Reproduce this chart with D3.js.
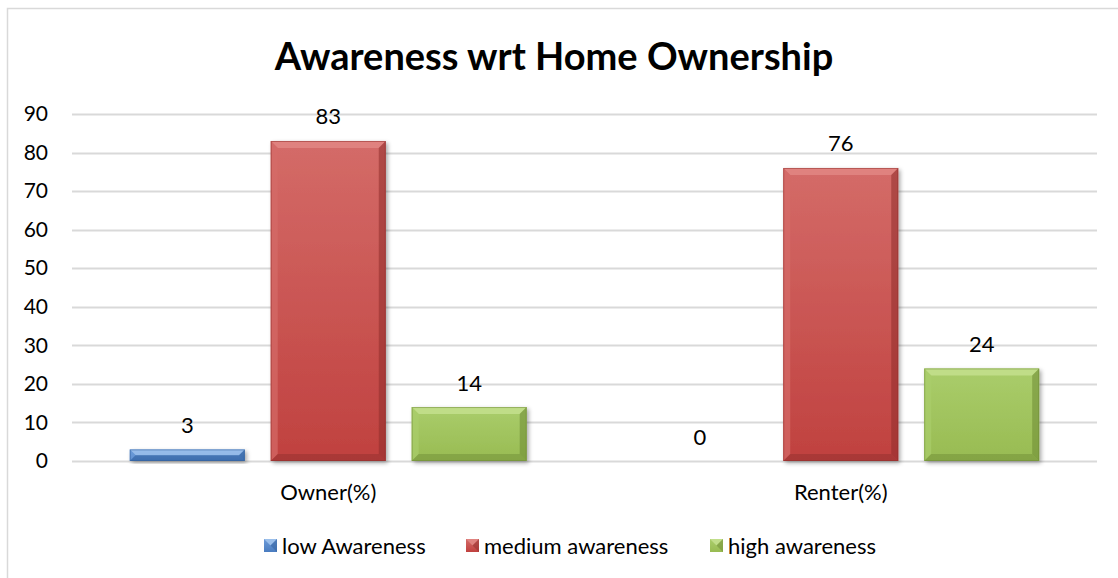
<!DOCTYPE html>
<html>
<head>
<meta charset="utf-8">
<script src="https://cdn.jsdelivr.net/npm/d3@7"></script>
<style>
  html, body { margin: 0; padding: 0; background: #fff; }
  svg { display: block; font-family: Lato, "Open Sans", sans-serif; }
</style>
</head>
<body>
<svg id="chart" width="1118" height="578"></svg>
<script>
// Survey results: share of respondents per awareness level, by home ownership
const categories = ["Owner(%)", "Renter(%)"];
const seriesNames = ["low Awareness", "medium awareness", "high awareness"];
const lowAwareness = [3, 0];
const mediumAwareness = [83, 76];
const highAwareness = [14, 24];
const yTicks = [0, 10, 20, 30, 40, 50, 60, 70, 80, 90];
const chartTitle = "Awareness wrt Home Ownership";

const seriesValues = [lowAwareness, mediumAwareness, highAwareness];

const W = 1118, H = 578;
const margin = { left: 72, right: 21, top: 114, bottom: 117 };
const labelSize = 22;

const svg = d3.select("#chart");

// palette per series: bevel highlight, gradient top/bottom, dark edge
const palettes = [
  { light: "#a3c6ef", top: "#6c9bd8", bottom: "#4a7cc0", dark: "#2f5e9a" },
  { light: "#e28885", top: "#d46b68", bottom: "#c0413f", dark: "#8f2e2c" },
  { light: "#c6e190", top: "#aacd6b", bottom: "#98bb52", dark: "#6d8a35" }
];

const defs = svg.append("defs");
palettes.forEach((p, i) => {
  const g = defs.append("linearGradient").attr("id", "grad" + i)
    .attr("x1", 0).attr("y1", 0).attr("x2", 0).attr("y2", 1);
  g.append("stop").attr("offset", "0%").attr("stop-color", p.top);
  g.append("stop").attr("offset", "100%").attr("stop-color", p.bottom);
});
const shadow = defs.append("filter").attr("id", "shadow")
  .attr("x", "-20%").attr("y", "-20%").attr("width", "140%").attr("height", "140%");
shadow.append("feDropShadow").attr("dx", 2).attr("dy", 2).attr("stdDeviation", 2.2)
  .attr("flood-color", "#000").attr("flood-opacity", 0.35);

// chart frame
svg.append("path")
  .attr("d", `M7.5,${H} V8.5 H${W}`)
  .attr("fill", "none").attr("stroke", "#d9d9d9").attr("stroke-width", 1.5);

// title
svg.append("text")
  .attr("x", 554).attr("y", 70)
  .attr("text-anchor", "middle")
  .attr("font-size", 38).attr("font-weight", "bold").attr("fill", "#000")
  .text(chartTitle);

const x0 = d3.scaleBand().domain(categories)
  .range([margin.left, W - margin.right]).padding(0);
const x1 = d3.scaleBand().domain(seriesNames)
  .range([0, x0.bandwidth()]).paddingInner(0.184).paddingOuter(0.41);
const y = d3.scaleLinear().domain([0, 90]).range([H - margin.bottom, margin.top]);

// gridlines
svg.append("g")
  .selectAll("line").data(yTicks).join("line")
  .attr("x1", margin.left).attr("x2", W - margin.right)
  .attr("y1", d => Math.round(y(d)) + 0.5).attr("y2", d => Math.round(y(d)) + 0.5)
  .attr("stroke", "#d9d9d9").attr("stroke-width", 2);

// y axis labels
const yAxis = svg.append("g")
  .attr("transform", `translate(${margin.left},0)`)
  .call(d3.axisLeft(y).tickValues(yTicks).tickSize(0).tickPadding(24));
yAxis.select(".domain").remove();
yAxis.selectAll("text").attr("font-size", 21).attr("fill", "#000")
  .attr("font-family", "Lato, 'Open Sans', sans-serif");

// x axis labels
const xAxis = svg.append("g")
  .attr("transform", `translate(0,${y(0)})`)
  .call(d3.axisBottom(x0).tickSize(0).tickPadding(23));
xAxis.select(".domain").remove();
xAxis.selectAll("text").attr("font-size", labelSize).attr("fill", "#000")
  .attr("font-family", "Lato, 'Open Sans', sans-serif");

// bars with bevelled edges
const bars = [];
categories.forEach((c, ci) => {
  seriesNames.forEach((s, si) => {
    bars.push({ cat: c, series: s, si, value: seriesValues[si][ci] });
  });
});

const barG = svg.append("g");
bars.forEach(d => {
  const bx = x0(d.cat) + x1(d.series);
  const bw = x1.bandwidth();
  const by = y(d.value);
  const bh = y(0) - by;
  if (bh <= 0) return;
  const p = palettes[d.si];
  const g = barG.append("g");
  g.append("rect").attr("x", bx).attr("y", by).attr("width", bw).attr("height", bh)
    .attr("fill", `url(#grad${d.si})`).attr("filter", "url(#shadow)");
  const b = Math.min(7, bh / 2);
  const x2 = bx + bw, y2 = by + bh;
  // top bevel
  g.append("path").attr("d", `M${bx},${by} L${x2},${by} L${x2 - b},${by + b} L${bx + b},${by + b} Z`)
    .attr("fill", p.light).attr("opacity", 0.8);
  // left bevel
  g.append("path").attr("d", `M${bx},${by} L${bx + b},${by + b} L${bx + b},${y2 - b} L${bx},${y2} Z`)
    .attr("fill", p.top).attr("opacity", 0.7);
  // right bevel
  g.append("path").attr("d", `M${x2},${by} L${x2},${y2} L${x2 - b},${y2 - b} L${x2 - b},${by + b} Z`)
    .attr("fill", p.dark).attr("opacity", 0.55);
  // bottom bevel
  g.append("path").attr("d", `M${bx},${y2} L${x2},${y2} L${x2 - b},${y2 - b} L${bx + b},${y2 - b} Z`)
    .attr("fill", p.dark).attr("opacity", 0.45);
  g.append("rect").attr("x", bx + 0.5).attr("y", by + 0.5).attr("width", bw - 1).attr("height", bh - 1)
    .attr("fill", "none").attr("stroke", p.dark).attr("stroke-opacity", 0.5).attr("stroke-width", 1);
});

// value labels
svg.append("g").selectAll("text").data(bars).join("text")
  .attr("x", d => x0(d.cat) + x1(d.series) + x1.bandwidth() / 2)
  .attr("y", d => y(d.value) - 25)
  .attr("dominant-baseline", "central")
  .attr("text-anchor", "middle")
  .attr("font-size", labelSize).attr("fill", "#000")
  .text(d => d.value);

// legend
const legendItems = [
  { name: seriesNames[0], x: 264 },
  { name: seriesNames[1], x: 466 },
  { name: seriesNames[2], x: 710 }
];
const lg = svg.append("g");
legendItems.forEach((it, i) => {
  const p = palettes[i];
  const sx = it.x, sy = 539, s = 13;
  lg.append("rect").attr("x", sx).attr("y", sy).attr("width", s).attr("height", s)
    .attr("fill", `url(#grad${i})`);
  lg.append("path").attr("d", `M${sx},${sy} L${sx + s},${sy} L${sx + s / 2},${sy + s / 2} Z`)
    .attr("fill", p.light).attr("opacity", 0.85);
  lg.append("path").attr("d", `M${sx + s},${sy} L${sx + s},${sy + s} L${sx + s / 2},${sy + s / 2} Z`)
    .attr("fill", p.dark).attr("opacity", 0.5);
  lg.append("text").attr("x", sx + s + 5).attr("y", sy + s / 2)
    .attr("dominant-baseline", "central")
    .attr("font-size", labelSize).attr("fill", "#000").text(it.name);
});
</script>
</body>
</html>
